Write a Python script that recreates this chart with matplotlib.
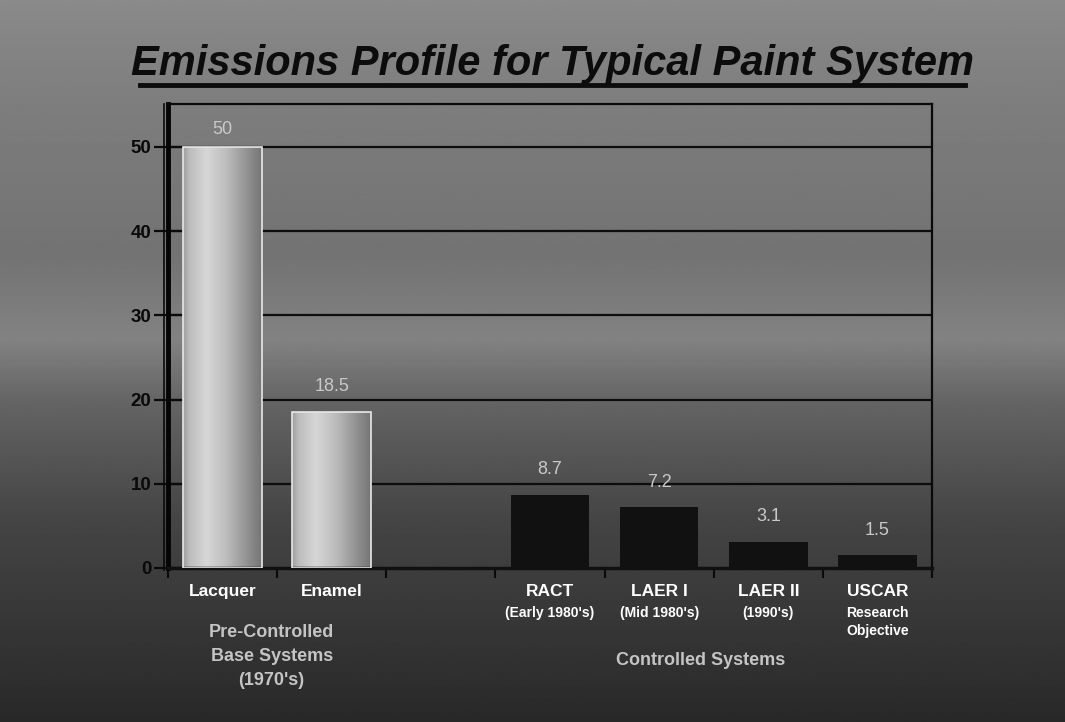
import numpy as np
import matplotlib.pyplot as plt
from matplotlib.lines import Line2D

# data
categories = ["Lacquer", "Enamel", "", "RACT", "LAER I", "LAER II", "USCAR"]
sublabels = ["", "", "", "(Early 1980's)", "(Mid 1980's)", "(1990's)", "Research\nObjective"]
values = [50, 18.5, None, 8.7, 7.2, 3.1, 1.5]
value_text = ["50", "18.5", "", "8.7", "7.2", "3.1", "1.5"]
yticks = [0, 10, 20, 30, 40, 50]
groups = ["Pre-Controlled\nBase Systems\n(1970's)", "Controlled Systems"]

FONT = ["Liberation Sans", "DejaVu Sans"]
NARROW = ["Liberation Sans Narrow", "Liberation Sans", "DejaVu Sans"]

fig = plt.figure(figsize=(10.65, 7.22), dpi=100)

# slide background: vertical grey gradient
bg = fig.add_axes([0, 0, 1, 1], zorder=-10)
ys = np.linspace(0, 1, 400)
stops_y = [0.0, 0.15, 0.35, 0.47, 0.56, 0.72, 1.0]
stops_v = [0.54, 0.49, 0.45, 0.51, 0.39, 0.27, 0.16]
col = np.interp(ys, stops_y, stops_v)
bg.imshow(np.repeat(col[:, None], 2, axis=1), cmap="gray", vmin=0, vmax=1,
          aspect="auto", extent=[0, 1, 0, 1], origin="upper")
bg.axis("off")

ax = fig.add_axes([168 / 1065, 1 - 568 / 722, (932 - 168) / 1065, (568 - 104) / 722])
ax.patch.set_alpha(0)
x = np.arange(len(categories))

for v in yticks[1:]:
    ax.axhline(v, color="#0d0d0d", lw=1.6, zorder=1)

# cylinder-like shading for the light bars
u = np.linspace(0, 1, 120)
shade = np.interp(u, [0.0, 0.08, 0.3, 0.55, 0.8, 1.0], [0.62, 0.74, 0.84, 0.74, 0.58, 0.46])
grad = shade[None, :]

light = [0, 1]
for i, v in enumerate(values):
    if v is None:
        continue
    if i in light:
        b = ax.bar(x[i], v, width=0.72, color="none", edgecolor="#e8e8e8", lw=1.2, zorder=3)[0]
        im = ax.imshow(grad, cmap="gray", vmin=0, vmax=1, aspect="auto",
                       interpolation="bilinear",
                       extent=[x[i] - 0.36, x[i] + 0.36, 0, v], zorder=2)
        im.set_clip_path(b)
    else:
        ax.bar(x[i], v, width=0.72, color="#111111", zorder=3)
    off = 1.1 if v > 40 else 2.0
    ax.text(x[i], v + off, value_text[i], ha="center", va="bottom",
            color="#c9c9c9", fontsize=13, family=FONT, zorder=4)

ax.set_aspect("auto")
ax.set_xlim(-0.5, len(categories) - 0.5)
ax.set_ylim(0, 55.1)

ax.set_yticks(yticks)
ax.set_yticklabels([str(t) for t in yticks], fontsize=13.5, fontweight="bold",
                   family=FONT, color="#0a0a0a")
ax.tick_params(axis="y", direction="inout", length=20, width=1.6, color="#0a0a0a", pad=2)
ax.set_xticks(np.arange(-0.5, len(categories), 1.0))
ax.set_xticklabels([])
ax.tick_params(axis="x", direction="out", length=7, width=1.5, color="#0a0a0a")

for s in ["top", "right"]:
    ax.spines[s].set_color("#0a0a0a")
    ax.spines[s].set_linewidth(1.6)
ax.spines["left"].set_linewidth(3.5)
ax.spines["bottom"].set_linewidth(2.5)
ax.spines["left"].set_color("#050505")
ax.spines["bottom"].set_color("#101010")

# thin outer edge of the side wall
fig.add_artist(Line2D([164 / 1065, 164 / 1065], [1 - 570 / 722, 1 - 104 / 722],
                      color="#0a0a0a", lw=1.2))

# category labels below the axis
trans = ax.get_xaxis_transform()
for i, name in enumerate(categories):
    if name:
        ax.text(x[i], -0.035, name, transform=trans, ha="center", va="top",
                color="white", fontsize=12.5, fontweight="bold", family=FONT)
    if sublabels[i]:
        ax.text(x[i], -0.082, sublabels[i], transform=trans, ha="center", va="top",
                color="white", fontsize=10, fontweight="bold", family=FONT,
                linespacing=1.35)

ax.text(0.45, -0.12, groups[0], transform=trans, ha="center", va="top",
        color="#c4c4c4", fontsize=13, fontweight="bold", family=FONT, linespacing=1.55)
ax.text(4.38, -0.18, groups[1], transform=trans, ha="center", va="top",
        color="#c4c4c4", fontsize=13, fontweight="bold", family=FONT)

# underlined title
fig.text(0.519, 1 - 64 / 722, "Emissions Profile for Typical Paint System",
         ha="center", va="center", fontsize=30, fontweight="bold", style="italic",
         family=NARROW, color="#0c0c0c")
fig.add_artist(Line2D([140 / 1065, 965 / 1065], [1 - 85 / 722, 1 - 85 / 722],
                      color="#0c0c0c", lw=3.5))

fig.savefig("out.png", dpi=100)
